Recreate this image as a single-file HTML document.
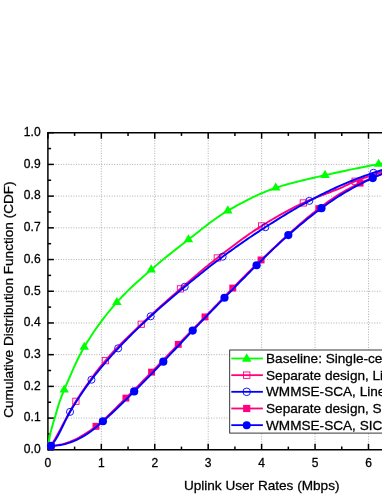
<!DOCTYPE html>
<html><head><meta charset="utf-8"><title>CDF of Uplink User Rates</title>
<style>html,body{margin:0;padding:0;background:#fff;}body{width:382px;height:494px;overflow:hidden;position:relative;font-family:"Liberation Sans",sans-serif;}</style>
</head><body>
<svg width="382" height="494" viewBox="0 0 382 494" style="position:absolute;left:0;top:0;will-change:transform;font-family:'Liberation Sans',sans-serif">
<style>text{stroke:#000;stroke-width:0.28px;}</style>
<rect width="382" height="494" fill="#fff"/>
<line x1="47.9" y1="418.09" x2="382" y2="418.09" stroke="#a6a6a6" stroke-width="0.9" stroke-dasharray="1,1.55"/>
<line x1="47.9" y1="386.38" x2="382" y2="386.38" stroke="#a6a6a6" stroke-width="0.9" stroke-dasharray="1,1.55"/>
<line x1="47.9" y1="354.67" x2="382" y2="354.67" stroke="#a6a6a6" stroke-width="0.9" stroke-dasharray="1,1.55"/>
<line x1="47.9" y1="322.96" x2="382" y2="322.96" stroke="#a6a6a6" stroke-width="0.9" stroke-dasharray="1,1.55"/>
<line x1="47.9" y1="291.25" x2="382" y2="291.25" stroke="#a6a6a6" stroke-width="0.9" stroke-dasharray="1,1.55"/>
<line x1="47.9" y1="259.54" x2="382" y2="259.54" stroke="#a6a6a6" stroke-width="0.9" stroke-dasharray="1,1.55"/>
<line x1="47.9" y1="227.83" x2="382" y2="227.83" stroke="#a6a6a6" stroke-width="0.9" stroke-dasharray="1,1.55"/>
<line x1="47.9" y1="196.12" x2="382" y2="196.12" stroke="#a6a6a6" stroke-width="0.9" stroke-dasharray="1,1.55"/>
<line x1="47.9" y1="164.41" x2="382" y2="164.41" stroke="#a6a6a6" stroke-width="0.9" stroke-dasharray="1,1.55"/>
<line x1="101.33" y1="132.7" x2="101.33" y2="449.8" stroke="#a6a6a6" stroke-width="0.9" stroke-dasharray="1,1.55"/>
<line x1="154.76" y1="132.7" x2="154.76" y2="449.8" stroke="#a6a6a6" stroke-width="0.9" stroke-dasharray="1,1.55"/>
<line x1="208.19" y1="132.7" x2="208.19" y2="449.8" stroke="#a6a6a6" stroke-width="0.9" stroke-dasharray="1,1.55"/>
<line x1="261.62" y1="132.7" x2="261.62" y2="449.8" stroke="#a6a6a6" stroke-width="0.9" stroke-dasharray="1,1.55"/>
<line x1="315.05" y1="132.7" x2="315.05" y2="449.8" stroke="#a6a6a6" stroke-width="0.9" stroke-dasharray="1,1.55"/>
<line x1="368.48" y1="132.7" x2="368.48" y2="449.8" stroke="#a6a6a6" stroke-width="0.9" stroke-dasharray="1,1.55"/>
<line x1="47.9" y1="131.95" x2="47.9" y2="450.55" stroke="#000" stroke-width="1.5"/>
<line x1="47.9" y1="449.8" x2="382" y2="449.8" stroke="#000" stroke-width="1.5"/>
<line x1="47.9" y1="132.7" x2="382" y2="132.7" stroke="#000" stroke-width="1.5"/>
<line x1="47.9" y1="449.80" x2="53.9" y2="449.80" stroke="#000" stroke-width="1.5"/>
<line x1="47.9" y1="433.94" x2="51.1" y2="433.94" stroke="#000" stroke-width="1.5"/>
<line x1="47.9" y1="418.09" x2="53.9" y2="418.09" stroke="#000" stroke-width="1.5"/>
<line x1="47.9" y1="402.24" x2="51.1" y2="402.24" stroke="#000" stroke-width="1.5"/>
<line x1="47.9" y1="386.38" x2="53.9" y2="386.38" stroke="#000" stroke-width="1.5"/>
<line x1="47.9" y1="370.52" x2="51.1" y2="370.52" stroke="#000" stroke-width="1.5"/>
<line x1="47.9" y1="354.67" x2="53.9" y2="354.67" stroke="#000" stroke-width="1.5"/>
<line x1="47.9" y1="338.81" x2="51.1" y2="338.81" stroke="#000" stroke-width="1.5"/>
<line x1="47.9" y1="322.96" x2="53.9" y2="322.96" stroke="#000" stroke-width="1.5"/>
<line x1="47.9" y1="307.11" x2="51.1" y2="307.11" stroke="#000" stroke-width="1.5"/>
<line x1="47.9" y1="291.25" x2="53.9" y2="291.25" stroke="#000" stroke-width="1.5"/>
<line x1="47.9" y1="275.39" x2="51.1" y2="275.39" stroke="#000" stroke-width="1.5"/>
<line x1="47.9" y1="259.54" x2="53.9" y2="259.54" stroke="#000" stroke-width="1.5"/>
<line x1="47.9" y1="243.69" x2="51.1" y2="243.69" stroke="#000" stroke-width="1.5"/>
<line x1="47.9" y1="227.83" x2="53.9" y2="227.83" stroke="#000" stroke-width="1.5"/>
<line x1="47.9" y1="211.97" x2="51.1" y2="211.97" stroke="#000" stroke-width="1.5"/>
<line x1="47.9" y1="196.12" x2="53.9" y2="196.12" stroke="#000" stroke-width="1.5"/>
<line x1="47.9" y1="180.26" x2="51.1" y2="180.26" stroke="#000" stroke-width="1.5"/>
<line x1="47.9" y1="164.41" x2="53.9" y2="164.41" stroke="#000" stroke-width="1.5"/>
<line x1="47.9" y1="148.56" x2="51.1" y2="148.56" stroke="#000" stroke-width="1.5"/>
<line x1="47.9" y1="132.70" x2="53.9" y2="132.70" stroke="#000" stroke-width="1.5"/>
<line x1="47.90" y1="449.8" x2="47.90" y2="443.8" stroke="#000" stroke-width="1.5"/>
<line x1="47.90" y1="132.7" x2="47.90" y2="138.7" stroke="#000" stroke-width="1.5"/>
<line x1="74.61" y1="449.8" x2="74.61" y2="446.6" stroke="#000" stroke-width="1.5"/>
<line x1="74.61" y1="132.7" x2="74.61" y2="135.89999999999998" stroke="#000" stroke-width="1.5"/>
<line x1="101.33" y1="449.8" x2="101.33" y2="443.8" stroke="#000" stroke-width="1.5"/>
<line x1="101.33" y1="132.7" x2="101.33" y2="138.7" stroke="#000" stroke-width="1.5"/>
<line x1="128.04" y1="449.8" x2="128.04" y2="446.6" stroke="#000" stroke-width="1.5"/>
<line x1="128.04" y1="132.7" x2="128.04" y2="135.89999999999998" stroke="#000" stroke-width="1.5"/>
<line x1="154.76" y1="449.8" x2="154.76" y2="443.8" stroke="#000" stroke-width="1.5"/>
<line x1="154.76" y1="132.7" x2="154.76" y2="138.7" stroke="#000" stroke-width="1.5"/>
<line x1="181.47" y1="449.8" x2="181.47" y2="446.6" stroke="#000" stroke-width="1.5"/>
<line x1="181.47" y1="132.7" x2="181.47" y2="135.89999999999998" stroke="#000" stroke-width="1.5"/>
<line x1="208.19" y1="449.8" x2="208.19" y2="443.8" stroke="#000" stroke-width="1.5"/>
<line x1="208.19" y1="132.7" x2="208.19" y2="138.7" stroke="#000" stroke-width="1.5"/>
<line x1="234.91" y1="449.8" x2="234.91" y2="446.6" stroke="#000" stroke-width="1.5"/>
<line x1="234.91" y1="132.7" x2="234.91" y2="135.89999999999998" stroke="#000" stroke-width="1.5"/>
<line x1="261.62" y1="449.8" x2="261.62" y2="443.8" stroke="#000" stroke-width="1.5"/>
<line x1="261.62" y1="132.7" x2="261.62" y2="138.7" stroke="#000" stroke-width="1.5"/>
<line x1="288.33" y1="449.8" x2="288.33" y2="446.6" stroke="#000" stroke-width="1.5"/>
<line x1="288.33" y1="132.7" x2="288.33" y2="135.89999999999998" stroke="#000" stroke-width="1.5"/>
<line x1="315.05" y1="449.8" x2="315.05" y2="443.8" stroke="#000" stroke-width="1.5"/>
<line x1="315.05" y1="132.7" x2="315.05" y2="138.7" stroke="#000" stroke-width="1.5"/>
<line x1="341.76" y1="449.8" x2="341.76" y2="446.6" stroke="#000" stroke-width="1.5"/>
<line x1="341.76" y1="132.7" x2="341.76" y2="135.89999999999998" stroke="#000" stroke-width="1.5"/>
<line x1="368.48" y1="449.8" x2="368.48" y2="443.8" stroke="#000" stroke-width="1.5"/>
<line x1="368.48" y1="132.7" x2="368.48" y2="138.7" stroke="#000" stroke-width="1.5"/>
<line x1="395.19" y1="449.8" x2="395.19" y2="446.6" stroke="#000" stroke-width="1.5"/>
<line x1="395.19" y1="132.7" x2="395.19" y2="135.89999999999998" stroke="#000" stroke-width="1.5"/>
<line x1="421.91" y1="449.8" x2="421.91" y2="443.8" stroke="#000" stroke-width="1.5"/>
<line x1="421.91" y1="132.7" x2="421.91" y2="138.7" stroke="#000" stroke-width="1.5"/>
<path d="M47.90,447.90 L50.32,433.11 L52.74,424.56 L55.16,416.49 L57.58,408.15 L60.00,400.56 L62.42,394.14 L64.84,388.36 L67.26,382.66 L69.68,377.03 L72.09,371.52 L74.51,366.15 L76.93,360.99 L79.35,356.06 L81.77,351.43 L84.19,347.13 L86.61,343.08 L89.03,339.18 L91.45,335.41 L93.87,331.77 L96.29,328.25 L98.71,324.85 L101.13,321.55 L103.55,318.36 L105.97,315.26 L108.39,312.25 L110.81,309.32 L113.23,306.47 L115.65,303.68 L118.06,300.97 L120.48,298.33 L122.90,295.79 L125.32,293.31 L127.74,290.90 L130.16,288.56 L132.58,286.27 L135.00,284.02 L137.42,281.82 L139.84,279.65 L142.26,277.50 L144.68,275.37 L147.10,273.25 L149.52,271.14 L151.94,269.03 L154.36,266.93 L156.78,264.87 L159.20,262.82 L161.62,260.81 L164.03,258.81 L166.45,256.83 L168.87,254.88 L171.29,252.94 L173.71,251.01 L176.13,249.11 L178.55,247.21 L180.97,245.32 L183.39,243.44 L185.81,241.57 L188.23,239.71 L190.65,237.84 L193.07,235.95 L195.49,234.05 L197.91,232.15 L200.33,230.25 L202.75,228.35 L205.17,226.47 L207.59,224.61 L210.00,222.78 L212.42,220.97 L214.84,219.21 L217.26,217.50 L219.68,215.83 L222.10,214.22 L224.52,212.68 L226.94,211.21 L229.36,209.80 L231.78,208.42 L234.20,207.05 L236.62,205.70 L239.04,204.37 L241.46,203.07 L243.88,201.79 L246.30,200.54 L248.72,199.31 L251.14,198.12 L253.56,196.95 L255.97,195.81 L258.39,194.71 L260.81,193.64 L263.23,192.60 L265.65,191.61 L268.07,190.65 L270.49,189.73 L272.91,188.85 L275.33,188.01 L277.75,187.21 L280.17,186.44 L282.59,185.69 L285.01,184.98 L287.43,184.28 L289.85,183.61 L292.27,182.96 L294.69,182.32 L297.11,181.70 L299.53,181.10 L301.94,180.51 L304.36,179.93 L306.78,179.36 L309.20,178.80 L311.62,178.24 L314.04,177.69 L316.46,177.14 L318.88,176.59 L321.30,176.05 L323.72,175.49 L326.14,174.94 L328.56,174.39 L330.98,173.84 L333.40,173.30 L335.82,172.77 L338.24,172.24 L340.66,171.71 L343.08,171.20 L345.50,170.68 L347.91,170.17 L350.33,169.67 L352.75,169.17 L355.17,168.67 L357.59,168.18 L360.01,167.69 L362.43,167.21 L364.85,166.73 L367.27,166.26 L369.69,165.79 L372.11,165.33 L374.53,164.87 L376.95,164.41 L379.37,163.96 L381.79,163.51 L384.21,163.06 L386.63,162.62 L389.05,162.18 L391.46,161.74 L393.88,161.31 L396.30,160.88 L398.72,160.45 L401.14,160.03 L403.56,159.61 L405.98,159.20 L408.40,158.79 L410.82,158.38 L413.24,157.97 L415.66,157.58 L418.08,157.18 L420.50,156.79 L422.92,156.40 L425.34,156.02 L427.76,155.64 L430.18,155.27 L432.60,154.90" fill="none" stroke="#00ff00" stroke-width="1.95"/>
<path d="M64.20,384.47 L68.95,392.57 L59.44,392.57 Z" fill="#00ff00"/>
<path d="M84.23,341.66 L88.98,349.76 L79.48,349.76 Z" fill="#00ff00"/>
<path d="M116.82,296.95 L121.58,305.05 L112.07,305.05 Z" fill="#00ff00"/>
<path d="M151.18,264.29 L155.93,272.39 L146.43,272.39 Z" fill="#00ff00"/>
<path d="M188.42,234.16 L193.17,242.26 L183.67,242.26 Z" fill="#00ff00"/>
<path d="M227.80,205.31 L232.55,213.41 L223.05,213.41 Z" fill="#00ff00"/>
<path d="M275.73,182.48 L280.48,190.58 L270.97,190.58 Z" fill="#00ff00"/>
<path d="M325.04,169.79 L329.79,177.89 L320.29,177.89 Z" fill="#00ff00"/>
<path d="M378.63,158.69 L383.38,166.79 L373.88,166.79 Z" fill="#00ff00"/>
<path d="M51.00,445.90 L53.33,441.97 L55.66,437.95 L58.00,433.78 L60.33,429.47 L62.66,425.07 L65.00,420.66 L67.33,416.27 L69.66,411.97 L71.99,407.80 L74.33,403.82 L76.66,400.08 L78.99,396.46 L81.33,392.91 L83.66,389.44 L85.99,386.04 L88.32,382.71 L90.66,379.45 L92.99,376.27 L95.32,373.17 L97.65,370.14 L99.99,367.18 L102.32,364.31 L104.65,361.50 L106.99,358.78 L109.32,356.13 L111.65,353.54 L113.98,351.02 L116.32,348.56 L118.65,346.15 L120.98,343.78 L123.31,341.45 L125.65,339.16 L127.98,336.89 L130.31,334.65 L132.65,332.42 L134.98,330.19 L137.31,327.98 L139.64,325.75 L141.98,323.53 L144.31,321.31 L146.64,319.11 L148.98,316.94 L151.31,314.78 L153.64,312.63 L155.97,310.50 L158.31,308.39 L160.64,306.29 L162.97,304.20 L165.30,302.12 L167.64,300.05 L169.97,297.99 L172.30,295.94 L174.64,293.90 L176.97,291.86 L179.30,289.83 L181.63,287.80 L183.97,285.78 L186.30,283.75 L188.63,281.73 L190.97,279.72 L193.30,277.72 L195.63,275.72 L197.96,273.73 L200.30,271.76 L202.63,269.80 L204.96,267.86 L207.29,265.94 L209.63,264.04 L211.96,262.15 L214.29,260.29 L216.63,258.46 L218.96,256.64 L221.29,254.84 L223.62,253.03 L225.96,251.24 L228.29,249.45 L230.62,247.68 L232.96,245.91 L235.29,244.17 L237.62,242.43 L239.95,240.72 L242.29,239.03 L244.62,237.35 L246.95,235.70 L249.28,234.07 L251.62,232.47 L253.95,230.89 L256.28,229.35 L258.62,227.83 L260.95,226.35 L263.28,224.89 L265.61,223.46 L267.95,222.03 L270.28,220.63 L272.61,219.24 L274.95,217.88 L277.28,216.53 L279.61,215.20 L281.94,213.89 L284.28,212.60 L286.61,211.33 L288.94,210.09 L291.27,208.86 L293.61,207.66 L295.94,206.49 L298.27,205.33 L300.61,204.21 L302.94,203.10 L305.27,202.03 L307.60,201.00 L309.94,200.01 L312.27,199.04 L314.60,198.10 L316.94,197.18 L319.27,196.28 L321.60,195.38 L323.93,194.50 L326.27,193.61 L328.60,192.72 L330.93,191.82 L333.26,190.91 L335.60,189.98 L337.93,189.03 L340.26,188.05 L342.60,187.03 L344.93,185.93 L347.26,184.78 L349.59,183.63 L351.93,182.53 L354.26,181.54 L356.59,180.68 L358.93,179.83 L361.26,178.99 L363.59,178.15 L365.92,177.33 L368.26,176.51 L370.59,175.70 L372.92,174.90 L375.25,174.12 L377.59,173.35 L379.92,172.59 L382.25,171.86 L384.59,171.13 L386.92,170.43 L389.25,169.75 L391.58,169.08 L393.92,168.44 L396.25,167.82 L398.58,167.22 L400.92,166.65 L403.25,166.11 L405.58,165.59 L407.91,165.10 L410.25,164.64 L412.58,164.21 L414.91,163.82 L417.24,163.45 L419.58,163.12 L421.91,162.82" fill="none" stroke="#ff0080" stroke-width="1.95"/>
<rect x="72.80" y="398.18" width="6.2" height="6.2" fill="none" stroke="#ff0080" stroke-width="0.9"/>
<rect x="102.24" y="357.59" width="6.2" height="6.2" fill="none" stroke="#ff0080" stroke-width="0.9"/>
<rect x="138.14" y="321.13" width="6.2" height="6.2" fill="none" stroke="#ff0080" stroke-width="0.9"/>
<rect x="177.31" y="285.77" width="6.2" height="6.2" fill="none" stroke="#ff0080" stroke-width="0.9"/>
<rect x="214.17" y="254.85" width="6.2" height="6.2" fill="none" stroke="#ff0080" stroke-width="0.9"/>
<rect x="258.52" y="222.83" width="6.2" height="6.2" fill="none" stroke="#ff0080" stroke-width="0.9"/>
<rect x="300.20" y="199.84" width="6.2" height="6.2" fill="none" stroke="#ff0080" stroke-width="0.9"/>
<rect x="352.02" y="178.12" width="6.2" height="6.2" fill="none" stroke="#ff0080" stroke-width="0.9"/>
<path d="M51.00,445.90 L53.33,442.87 L55.66,439.44 L58.00,435.42 L60.33,430.95 L62.66,426.21 L65.00,421.42 L67.33,416.78 L69.66,412.49 L71.99,408.57 L74.33,404.76 L76.66,401.05 L78.99,397.44 L81.33,393.92 L83.66,390.50 L85.99,387.17 L88.32,383.93 L90.66,380.77 L92.99,377.69 L95.32,374.70 L97.65,371.77 L99.99,368.91 L102.32,366.11 L104.65,363.37 L106.99,360.68 L109.32,358.03 L111.65,355.43 L113.98,352.86 L116.32,350.32 L118.65,347.80 L120.98,345.32 L123.31,342.88 L125.65,340.47 L127.98,338.09 L130.31,335.74 L132.65,333.42 L134.98,331.13 L137.31,328.87 L139.64,326.62 L141.98,324.40 L144.31,322.20 L146.64,320.01 L148.98,317.85 L151.31,315.69 L153.64,313.56 L155.97,311.44 L158.31,309.35 L160.64,307.28 L162.97,305.23 L165.30,303.20 L167.64,301.18 L169.97,299.18 L172.30,297.19 L174.64,295.21 L176.97,293.25 L179.30,291.29 L181.63,289.34 L183.97,287.40 L186.30,285.47 L188.63,283.54 L190.97,281.62 L193.30,279.70 L195.63,277.80 L197.96,275.90 L200.30,274.01 L202.63,272.14 L204.96,270.27 L207.29,268.42 L209.63,266.59 L211.96,264.77 L214.29,262.97 L216.63,261.18 L218.96,259.42 L221.29,257.67 L223.62,255.94 L225.96,254.23 L228.29,252.53 L230.62,250.84 L232.96,249.17 L235.29,247.50 L237.62,245.85 L239.95,244.22 L242.29,242.59 L244.62,240.98 L246.95,239.38 L249.28,237.80 L251.62,236.22 L253.95,234.66 L256.28,233.11 L258.62,231.57 L260.95,230.05 L263.28,228.53 L265.61,227.03 L267.95,225.54 L270.28,224.05 L272.61,222.58 L274.95,221.11 L277.28,219.64 L279.61,218.19 L281.94,216.75 L284.28,215.32 L286.61,213.90 L288.94,212.49 L291.27,211.10 L293.61,209.73 L295.94,208.36 L298.27,207.02 L300.61,205.69 L302.94,204.38 L305.27,203.08 L307.60,201.81 L309.94,200.55 L312.27,199.31 L314.60,198.09 L316.94,196.87 L319.27,195.67 L321.60,194.49 L323.93,193.32 L326.27,192.17 L328.60,191.04 L330.93,189.93 L333.26,188.83 L335.60,187.76 L337.93,186.70 L340.26,185.67 L342.60,184.66 L344.93,183.67 L347.26,182.68 L349.59,181.71 L351.93,180.75 L354.26,179.81 L356.59,178.89 L358.93,177.98 L361.26,177.09 L363.59,176.22 L365.92,175.38 L368.26,174.55 L370.59,173.76 L372.92,172.98 L375.25,172.23 L377.59,171.49 L379.92,170.76 L382.25,170.03 L384.59,169.32 L386.92,168.61 L389.25,167.92 L391.58,167.23 L393.92,166.56 L396.25,165.91 L398.58,165.26 L400.92,164.63 L403.25,164.01 L405.58,163.41 L407.91,162.82 L410.25,162.25 L412.58,161.69 L414.91,161.16 L417.24,160.64 L419.58,160.14 L421.91,159.65" fill="none" stroke="#0000ff" stroke-width="1.95"/>
<circle cx="70.02" cy="411.87" r="3.55" fill="none" stroke="#0000ff" stroke-width="0.9"/>
<circle cx="91.45" cy="379.72" r="3.55" fill="none" stroke="#0000ff" stroke-width="0.9"/>
<circle cx="118.16" cy="348.33" r="3.55" fill="none" stroke="#0000ff" stroke-width="0.9"/>
<circle cx="150.65" cy="316.30" r="3.55" fill="none" stroke="#0000ff" stroke-width="0.9"/>
<circle cx="184.68" cy="286.81" r="3.55" fill="none" stroke="#0000ff" stroke-width="0.9"/>
<circle cx="222.62" cy="256.69" r="3.55" fill="none" stroke="#0000ff" stroke-width="0.9"/>
<circle cx="265.36" cy="227.20" r="3.55" fill="none" stroke="#0000ff" stroke-width="0.9"/>
<circle cx="309.33" cy="200.88" r="3.55" fill="none" stroke="#0000ff" stroke-width="0.9"/>
<circle cx="373.45" cy="172.81" r="3.55" fill="none" stroke="#0000ff" stroke-width="0.9"/>
<path d="M51.00,445.90 L53.33,445.71 L55.66,445.41 L58.00,445.03 L60.33,444.59 L62.66,444.10 L65.00,443.45 L67.33,442.68 L69.66,441.80 L71.99,440.86 L74.33,439.86 L76.66,438.76 L78.99,437.52 L81.33,436.17 L83.66,434.75 L85.99,433.28 L88.32,431.79 L90.66,430.24 L92.99,428.60 L95.32,426.85 L97.65,425.00 L99.99,423.05 L102.32,421.02 L104.65,418.91 L106.99,416.74 L109.32,414.52 L111.65,412.26 L113.98,409.96 L116.32,407.64 L118.65,405.31 L120.98,402.99 L123.31,400.67 L125.65,398.37 L127.98,396.08 L130.31,393.76 L132.65,391.43 L134.98,389.08 L137.31,386.71 L139.64,384.33 L141.98,381.95 L144.31,379.55 L146.64,377.16 L148.98,374.76 L151.31,372.36 L153.64,369.96 L155.97,367.56 L158.31,365.14 L160.64,362.71 L162.97,360.28 L165.30,357.85 L167.64,355.42 L169.97,352.98 L172.30,350.55 L174.64,348.13 L176.97,345.71 L179.30,343.30 L181.63,340.90 L183.97,338.50 L186.30,336.11 L188.63,333.72 L190.97,331.33 L193.30,328.94 L195.63,326.55 L197.96,324.16 L200.30,321.76 L202.63,319.36 L204.96,316.96 L207.29,314.54 L209.63,312.12 L211.96,309.68 L214.29,307.24 L216.63,304.80 L218.96,302.36 L221.29,299.92 L223.62,297.49 L225.96,295.07 L228.29,292.66 L230.62,290.27 L232.96,287.89 L235.29,285.52 L237.62,283.15 L239.95,280.79 L242.29,278.43 L244.62,276.08 L246.95,273.74 L249.28,271.41 L251.62,269.10 L253.95,266.81 L256.28,264.55 L258.62,262.30 L260.95,260.08 L263.28,257.88 L265.61,255.67 L267.95,253.47 L270.28,251.26 L272.61,249.06 L274.95,246.87 L277.28,244.68 L279.61,242.50 L281.94,240.33 L284.28,238.17 L286.61,236.03 L288.94,233.90 L291.27,231.78 L293.61,229.69 L295.94,227.61 L298.27,225.56 L300.61,223.52 L302.94,221.52 L305.27,219.53 L307.60,217.58 L309.94,215.66 L312.27,213.76 L314.60,211.90 L316.94,210.07 L319.27,208.28 L321.60,206.52 L323.93,204.78 L326.27,203.08 L328.60,201.41 L330.93,199.78 L333.26,198.19 L335.60,196.64 L337.93,195.15 L340.26,193.70 L342.60,192.30 L344.93,190.94 L347.26,189.61 L349.59,188.32 L351.93,187.07 L354.26,185.87 L356.59,184.73 L358.93,183.64 L361.26,182.61 L363.59,181.59 L365.92,180.58 L368.26,179.58 L370.59,178.59 L372.92,177.61 L375.25,176.64 L377.59,175.68 L379.92,174.74 L382.25,173.81 L384.59,172.90 L386.92,172.01 L389.25,171.13 L391.58,170.27 L393.92,169.43 L396.25,168.61 L398.58,167.81 L400.92,167.04 L403.25,166.29 L405.58,165.56 L407.91,164.86 L410.25,164.19 L412.58,163.54 L414.91,162.92 L417.24,162.33 L419.58,161.77 L421.91,161.24" fill="none" stroke="#ff0080" stroke-width="1.95"/>
<rect x="47.55" y="442.45" width="6.9" height="6.9" fill="#ff0080"/>
<rect x="92.54" y="422.88" width="6.9" height="6.9" fill="#ff0080"/>
<rect x="122.46" y="394.66" width="6.9" height="6.9" fill="#ff0080"/>
<rect x="148.10" y="368.66" width="6.9" height="6.9" fill="#ff0080"/>
<rect x="174.82" y="340.91" width="6.9" height="6.9" fill="#ff0080"/>
<rect x="201.53" y="313.49" width="6.9" height="6.9" fill="#ff0080"/>
<rect x="229.32" y="284.63" width="6.9" height="6.9" fill="#ff0080"/>
<rect x="257.64" y="256.50" width="6.9" height="6.9" fill="#ff0080"/>
<rect x="315.34" y="205.20" width="6.9" height="6.9" fill="#ff0080"/>
<rect x="356.64" y="179.67" width="6.9" height="6.9" fill="#ff0080"/>
<path d="M51.00,445.90 L53.33,445.82 L55.66,445.62 L58.00,445.35 L60.33,445.02 L62.66,444.64 L65.00,444.10 L67.33,443.41 L69.66,442.61 L71.99,441.73 L74.33,440.82 L76.66,439.82 L78.99,438.67 L81.33,437.41 L83.66,436.05 L85.99,434.61 L88.32,433.11 L90.66,431.46 L92.99,429.68 L95.32,427.79 L97.65,425.82 L99.99,423.81 L102.32,421.79 L104.65,419.76 L106.99,417.69 L109.32,415.57 L111.65,413.42 L113.98,411.23 L116.32,409.01 L118.65,406.76 L120.98,404.49 L123.31,402.21 L125.65,399.91 L127.98,397.60 L130.31,395.29 L132.65,392.98 L134.98,390.67 L137.31,388.35 L139.64,386.01 L141.98,383.66 L144.31,381.29 L146.64,378.90 L148.98,376.51 L151.31,374.10 L153.64,371.69 L155.97,369.27 L158.31,366.85 L160.64,364.42 L162.97,362.00 L165.30,359.56 L167.64,357.12 L169.97,354.66 L172.30,352.19 L174.64,349.71 L176.97,347.23 L179.30,344.74 L181.63,342.26 L183.97,339.78 L186.30,337.30 L188.63,334.84 L190.97,332.38 L193.30,329.94 L195.63,327.51 L197.96,325.08 L200.30,322.65 L202.63,320.23 L204.96,317.82 L207.29,315.41 L209.63,313.00 L211.96,310.60 L214.29,308.20 L216.63,305.80 L218.96,303.41 L221.29,301.02 L223.62,298.63 L225.96,296.25 L228.29,293.86 L230.62,291.47 L232.96,289.08 L235.29,286.69 L237.62,284.31 L239.95,281.93 L242.29,279.55 L244.62,277.19 L246.95,274.84 L249.28,272.49 L251.62,270.17 L253.95,267.85 L256.28,265.56 L258.62,263.27 L260.95,260.98 L263.28,258.70 L265.61,256.42 L267.95,254.14 L270.28,251.88 L272.61,249.64 L274.95,247.41 L277.28,245.20 L279.61,243.02 L281.94,240.86 L284.28,238.74 L286.61,236.65 L288.94,234.59 L291.27,232.56 L293.61,230.54 L295.94,228.54 L298.27,226.56 L300.61,224.60 L302.94,222.66 L305.27,220.74 L307.60,218.85 L309.94,216.98 L312.27,215.14 L314.60,213.32 L316.94,211.54 L319.27,209.79 L321.60,208.07 L323.93,206.37 L326.27,204.70 L328.60,203.06 L330.93,201.44 L333.26,199.85 L335.60,198.30 L337.93,196.79 L340.26,195.31 L342.60,193.89 L344.93,192.50 L347.26,191.15 L349.59,189.81 L351.93,188.50 L354.26,187.22 L356.59,185.96 L358.93,184.73 L361.26,183.53 L363.59,182.35 L365.92,181.21 L368.26,180.10 L370.59,179.02 L372.92,177.97 L375.25,176.95 L377.59,175.93 L379.92,174.93 L382.25,173.93 L384.59,172.95 L386.92,171.99 L389.25,171.03 L391.58,170.10 L393.92,169.18 L396.25,168.27 L398.58,167.39 L400.92,166.52 L403.25,165.67 L405.58,164.84 L407.91,164.03 L410.25,163.24 L412.58,162.48 L414.91,161.73 L417.24,161.02 L419.58,160.32 L421.91,159.65" fill="none" stroke="#0000ff" stroke-width="1.95"/>
<circle cx="51.00" cy="445.90" r="4.1" fill="#0000ff"/>
<circle cx="102.93" cy="421.26" r="4.1" fill="#0000ff"/>
<circle cx="134.19" cy="391.45" r="4.1" fill="#0000ff"/>
<circle cx="163.31" cy="361.65" r="4.1" fill="#0000ff"/>
<circle cx="192.70" cy="330.57" r="4.1" fill="#0000ff"/>
<circle cx="224.49" cy="297.75" r="4.1" fill="#0000ff"/>
<circle cx="256.60" cy="265.25" r="4.1" fill="#0000ff"/>
<circle cx="288.33" cy="235.12" r="4.1" fill="#0000ff"/>
<circle cx="321.46" cy="208.17" r="4.1" fill="#0000ff"/>
<circle cx="372.75" cy="178.05" r="4.1" fill="#0000ff"/>
<text x="40.6" y="453.10" font-size="12.05" text-anchor="end" fill="#000">0.0</text>
<text x="40.6" y="421.39" font-size="12.05" text-anchor="end" fill="#000">0.1</text>
<text x="40.6" y="389.68" font-size="12.05" text-anchor="end" fill="#000">0.2</text>
<text x="40.6" y="357.97" font-size="12.05" text-anchor="end" fill="#000">0.3</text>
<text x="40.6" y="326.26" font-size="12.05" text-anchor="end" fill="#000">0.4</text>
<text x="40.6" y="294.55" font-size="12.05" text-anchor="end" fill="#000">0.5</text>
<text x="40.6" y="262.84" font-size="12.05" text-anchor="end" fill="#000">0.6</text>
<text x="40.6" y="231.13" font-size="12.05" text-anchor="end" fill="#000">0.7</text>
<text x="40.6" y="199.42" font-size="12.05" text-anchor="end" fill="#000">0.8</text>
<text x="40.6" y="167.71" font-size="12.05" text-anchor="end" fill="#000">0.9</text>
<text x="40.6" y="136.00" font-size="12.05" text-anchor="end" fill="#000">1.0</text>
<text x="47.90" y="466.7" font-size="12.05" text-anchor="middle" fill="#000">0</text>
<text x="101.33" y="466.7" font-size="12.05" text-anchor="middle" fill="#000">1</text>
<text x="154.76" y="466.7" font-size="12.05" text-anchor="middle" fill="#000">2</text>
<text x="208.19" y="466.7" font-size="12.05" text-anchor="middle" fill="#000">3</text>
<text x="261.62" y="466.7" font-size="12.05" text-anchor="middle" fill="#000">4</text>
<text x="315.05" y="466.7" font-size="12.05" text-anchor="middle" fill="#000">5</text>
<text x="368.48" y="466.7" font-size="12.05" text-anchor="middle" fill="#000">6</text>
<text x="261.7" y="489.7" font-size="13.6" text-anchor="middle" fill="#000">Uplink User Rates (Mbps)</text>
<text transform="translate(13.1,299.6) rotate(-90)" font-size="13.6" text-anchor="middle" fill="#000">Cumulative Distribution Function (CDF)</text>
<rect x="229.7" y="350.0" width="200" height="83.10" fill="#fff" stroke="#222" stroke-width="0.9"/>
<line x1="231.3" y1="358.50" x2="262.9" y2="358.50" stroke="#00ff00" stroke-width="1.8"/>
<path d="M246.70,353.20 L251.45,361.70 L241.95,361.70 Z" fill="#00ff00"/>
<text x="266.0" y="362.90" font-size="13.6" fill="#000">Baseline: Single-cell processing</text>
<line x1="231.3" y1="375.16" x2="262.9" y2="375.16" stroke="#ff0080" stroke-width="1.8"/>
<rect x="243.50" y="371.96" width="6.4" height="6.4" fill="none" stroke="#ff0080" stroke-width="0.9"/>
<text x="266.0" y="379.56" font-size="13.6" fill="#000">Separate design, Linear</text>
<line x1="231.3" y1="391.82" x2="262.9" y2="391.82" stroke="#0000ff" stroke-width="1.8"/>
<circle cx="246.70" cy="391.82" r="3.8" fill="none" stroke="#0000ff" stroke-width="0.9"/>
<text x="266.0" y="396.22" font-size="13.6" fill="#000">WMMSE-SCA, Linear</text>
<line x1="231.3" y1="408.48" x2="262.9" y2="408.48" stroke="#ff0080" stroke-width="1.8"/>
<rect x="243.10" y="404.88" width="7.2" height="7.2" fill="#ff0080"/>
<text x="266.0" y="412.88" font-size="13.6" fill="#000">Separate design, SIC</text>
<line x1="231.3" y1="425.14" x2="262.9" y2="425.14" stroke="#0000ff" stroke-width="1.8"/>
<circle cx="246.70" cy="425.14" r="4.0" fill="#0000ff"/>
<text x="266.0" y="429.54" font-size="13.6" fill="#000">WMMSE-SCA, SIC</text>
</svg>
</body></html>
